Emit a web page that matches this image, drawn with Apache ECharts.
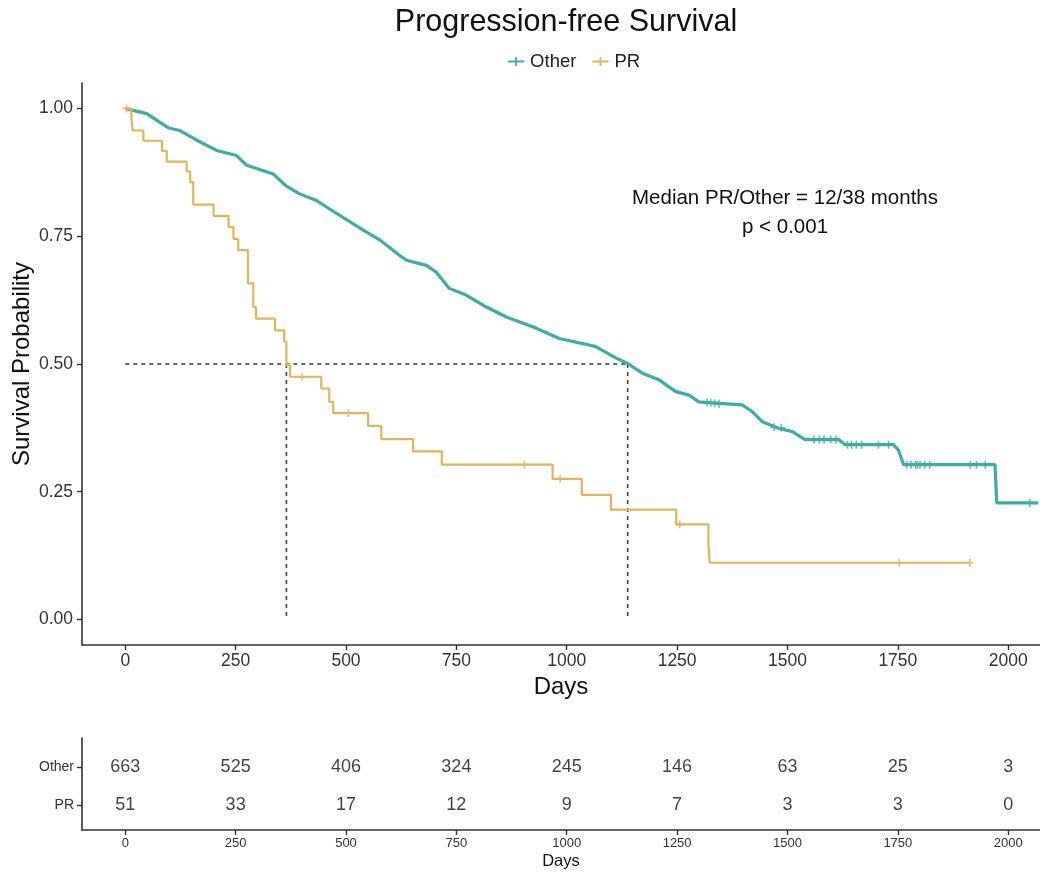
<!DOCTYPE html>
<html><head><meta charset="utf-8">
<script src="https://cdn.jsdelivr.net/npm/echarts@6/dist/echarts.min.js"></script>
<style>html,body{margin:0;padding:0;background:#fff}#c{width:1040px;height:875px}</style>
</head><body><div id="c"></div>
<script>
// ---- data ----
const otherDays = [0, 15, 49, 75, 98, 124, 162, 207, 252, 275, 335, 365, 395, 433, 471, 539, 576, 621, 637, 682, 704, 734, 772, 817, 863, 923, 983, 1036, 1066, 1111, 1138, 1171, 1209, 1247, 1277, 1299, 1397, 1420, 1443, 1480, 1510, 1540, 1616, 1631, 1740, 1751, 1763, 1970, 1974, 2068];
const otherSurv = [1.000, 0.997, 0.990, 0.975, 0.962, 0.957, 0.938, 0.918, 0.908, 0.889, 0.872, 0.848, 0.833, 0.820, 0.799, 0.762, 0.743, 0.713, 0.703, 0.693, 0.680, 0.648, 0.635, 0.612, 0.592, 0.573, 0.550, 0.540, 0.534, 0.512, 0.501, 0.482, 0.469, 0.446, 0.439, 0.426, 0.420, 0.407, 0.387, 0.374, 0.368, 0.352, 0.352, 0.342, 0.342, 0.332, 0.303, 0.303, 0.228, 0.228];
const prDays = [0, 14, 17, 41, 83, 94, 139, 147, 154, 200, 234, 245, 256, 278, 290, 296, 339, 360, 365, 373, 444, 462, 471, 550, 580, 652, 717, 968, 1034, 1100, 1248, 1321, 1324, 1913];
const prSurv = [1.000, 0.980, 0.957, 0.937, 0.917, 0.896, 0.877, 0.856, 0.812, 0.790, 0.768, 0.745, 0.723, 0.658, 0.612, 0.589, 0.566, 0.544, 0.498, 0.475, 0.452, 0.426, 0.404, 0.379, 0.353, 0.329, 0.303, 0.275, 0.244, 0.215, 0.186, 0.149, 0.111, 0.111];
const otherCensorDays = [1318, 1326, 1335, 1345, 1470, 1486, 1560, 1572, 1583, 1598, 1610, 1636, 1645, 1656, 1668, 1706, 1729, 1770, 1780, 1790, 1794, 1800, 1811, 1822, 1914, 1928, 1948, 2049];
const otherCensorSurv = [0.424, 0.424, 0.423, 0.422, 0.376, 0.375, 0.352, 0.352, 0.352, 0.352, 0.352, 0.342, 0.342, 0.342, 0.342, 0.342, 0.342, 0.303, 0.303, 0.303, 0.303, 0.303, 0.303, 0.303, 0.303, 0.303, 0.303, 0.228];
const prCensorDays = [3, 401, 505, 904, 985, 1256, 1753, 1913];
const prCensorSurv = [1.000, 0.475, 0.404, 0.303, 0.275, 0.186, 0.111, 0.111];
const medianGroups = ['PR', 'Other'];
const medianDays = [365, 1138];
const medianLevel = 0.5;
const xTicks = [0, 250, 500, 750, 1000, 1250, 1500, 1750, 2000];
const yTicks = [0, 0.25, 0.5, 0.75, 1.0];
const riskGroups = ['Other', 'PR'];
const riskDays = [0, 250, 500, 750, 1000, 1250, 1500, 1750, 2000];
const riskOther = [663, 525, 406, 324, 245, 146, 63, 25, 3];
const riskPR = [51, 33, 17, 12, 9, 7, 3, 3, 0];
const titleText = 'Progression-free Survival';
const annot1 = 'Median PR/Other = 12/38 months';
const annot2 = 'p < 0.001';

// ---- styling ----
const FONT = "'Liberation Sans', Arial, sans-serif";
const C_OTHER = '#3aafa5';
const C_PR = '#e2b556';
const AXC = '#333333';
const XMIN = -98, XMAX = 2072;
const plusPath = 'path://M4,0h2v4h4v2h-4v4h-2v-4h-4v-2h4z';
const legendIcon = 'path://M0,4h8v-4h2v4h8v2h-8v4h-2v-4h-8z';

const zip = (a, b) => a.map((v, i) => [v, b[i]]);
const levelOf = g => riskGroups.length - riskGroups.indexOf(g); // Other=2, PR=1

const dashStyle = { color: '#444', width: 1.6, type: [4, 4] };
const dashedH = [[0, medianLevel], [Math.max(...medianDays), medianLevel]];
const dashedSeries = [{
  type: 'line', xAxisIndex: 0, yAxisIndex: 0, data: dashedH, symbol: 'none', silent: true,
  lineStyle: dashStyle, z: 1
}].concat(medianDays.map(d => ({
  type: 'line', xAxisIndex: 0, yAxisIndex: 0, data: [[d, medianLevel], [d, 0]], symbol: 'none', silent: true,
  lineStyle: dashStyle, z: 1
})));

const riskSeries = riskGroups.map(g => ({
  type: 'scatter', xAxisIndex: 1, yAxisIndex: 1, symbolSize: 1,
  itemStyle: { color: 'rgba(0,0,0,0)' }, silent: true,
  data: riskDays.map((d, i) => [d, levelOf(g), (g === 'Other' ? riskOther : riskPR)[i]]),
  label: { show: true, position: 'inside', formatter: p => String(p.value[2]),
    fontFamily: FONT, fontSize: 18, color: '#111' }
}));

const axisLineStyle = { show: true, onZero: false, lineStyle: { color: AXC, width: 1.6 } };
const tickStyle = { show: true, length: 5, lineStyle: { color: AXC, width: 1.4 } };

const chart = echarts.init(document.getElementById('c'), null, { renderer: 'canvas' });
chart.setOption({
  animation: false,
  backgroundColor: '#ffffff',
  grid: [
    { left: 82, right: 0, top: 83, height: 562, containLabel: false, outerBoundsMode: 'none' },
    { left: 82, right: 0, top: 738, height: 92, containLabel: false, outerBoundsMode: 'none' }
  ],
  legend: {
    data: ['Other', 'PR'], left: 503, top: 47, itemGap: 16, itemWidth: 18, itemHeight: 9,
    textStyle: { fontFamily: FONT, fontSize: 18.5, color: '#222' },
    icon: legendIcon
  },
  graphic: [
    { type: 'text', x: 566, y: 23, style: { text: titleText, fontFamily: FONT, fontSize: 30.5, fill: '#111', align: 'center', verticalAlign: 'middle' } },
    { type: 'text', x: 785, y: 198, style: { text: annot1, fontFamily: FONT, fontSize: 20.5, fill: '#111', align: 'center', verticalAlign: 'middle' } },
    { type: 'text', x: 785, y: 227, style: { text: annot2, fontFamily: FONT, fontSize: 20.5, fill: '#111', align: 'center', verticalAlign: 'middle' } }
  ],
  xAxis: [
    { type: 'value', gridIndex: 0, min: XMIN, max: XMAX, splitLine: { show: false },
      axisLine: axisLineStyle, axisTick: Object.assign({ customValues: xTicks }, tickStyle),
      axisLabel: { customValues: xTicks, formatter: v => String(v), fontFamily: FONT, fontSize: 17.5, color: '#333', margin: 7 },
      name: 'Days', nameLocation: 'middle', nameGap: 29,
      nameTextStyle: { fontFamily: FONT, fontSize: 24, color: '#111' } },
    { type: 'value', gridIndex: 1, min: XMIN, max: XMAX, splitLine: { show: false },
      axisLine: axisLineStyle, axisTick: Object.assign({ customValues: riskDays }, tickStyle),
      axisLabel: { customValues: riskDays, formatter: v => String(v), fontFamily: FONT, fontSize: 13, color: '#333', margin: 7 },
      name: 'Days', nameLocation: 'middle', nameGap: 23,
      nameTextStyle: { fontFamily: FONT, fontSize: 16.5, color: '#111' } }
  ],
  yAxis: [
    { type: 'value', gridIndex: 0, min: -0.05, max: 1.05, splitLine: { show: false },
      axisLine: axisLineStyle, axisTick: Object.assign({ customValues: yTicks }, tickStyle),
      axisLabel: { customValues: yTicks, formatter: v => v.toFixed(2), fontFamily: FONT, fontSize: 17.5, color: '#333', margin: 9 },
      name: 'Survival Probability', nameLocation: 'middle', nameGap: 48, nameMoveOverlap: false,
      nameTextStyle: { fontFamily: FONT, fontSize: 24, color: '#111' } },
    { type: 'value', gridIndex: 1, min: 0.342, max: 2.763, splitLine: { show: false },
      axisLine: axisLineStyle, axisTick: Object.assign({ customValues: [1, 2] }, tickStyle),
      axisLabel: { customValues: [1, 2], formatter: v => riskGroups[riskGroups.length - v] || '',
        fontFamily: FONT, fontSize: 14, color: '#333', margin: 8 } }
  ],
  series: dashedSeries.concat([
    { name: 'Other', type: 'line', xAxisIndex: 0, yAxisIndex: 0, data: zip(otherDays, otherSurv),
      symbol: 'none', lineStyle: { color: C_OTHER, width: 3.2 }, itemStyle: { color: C_OTHER }, z: 3 },
    { name: 'PR', type: 'line', step: 'end', xAxisIndex: 0, yAxisIndex: 0, data: zip(prDays, prSurv),
      symbol: 'none', lineStyle: { color: C_PR, width: 2.2 }, itemStyle: { color: C_PR }, z: 3 },
    { type: 'scatter', xAxisIndex: 0, yAxisIndex: 0, data: zip(otherCensorDays, otherCensorSurv),
      symbol: plusPath, symbolSize: 8, itemStyle: { color: C_OTHER }, z: 4, silent: true },
    { type: 'scatter', xAxisIndex: 0, yAxisIndex: 0, data: zip(prCensorDays, prCensorSurv),
      symbol: plusPath, symbolSize: 8, itemStyle: { color: C_PR }, z: 4, silent: true }
  ]).concat(riskSeries)
});
</script></body></html>
